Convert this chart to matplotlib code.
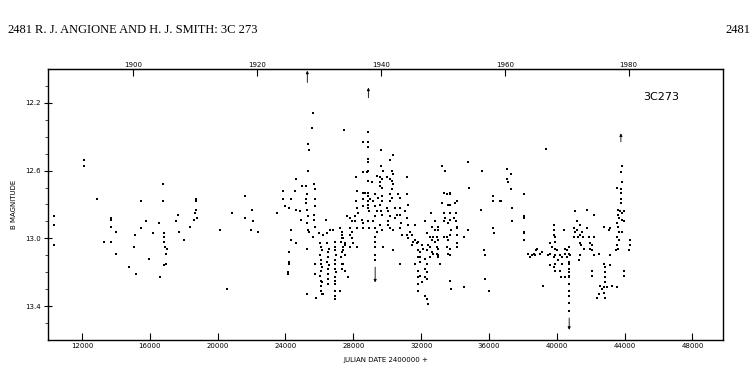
import matplotlib
matplotlib.use("Agg")
import matplotlib.pyplot as plt
import numpy as np

# B magnitude light curve of 3C 273 (JD - 2400000, mag)
early = [
    (10350, 12.87), (10350, 12.92), (10350, 13.04), (12120, 12.54), (12120, 12.57),
    (12870, 12.77), (13690, 12.88), (13690, 12.89), (13690, 12.93), (13990, 12.96),
    (13320, 13.02), (13690, 13.02), (13990, 13.09), (14750, 13.17), (15070, 13.05),
    (15110, 12.98), (15170, 13.21), (15480, 12.78), (15460, 12.94), (15800, 12.90),
    (15950, 13.12), (16190, 12.97), (16540, 12.91), (16580, 13.23), (16800, 12.68),
    (16800, 12.78), (16820, 12.97), (16820, 12.99), (16820, 13.02), (16900, 13.05),
    (17020, 13.06), (16940, 13.09), (16820, 13.16), (16970, 13.15), (17650, 12.86),
    (17550, 12.90), (17710, 12.96), (18020, 13.01), (18370, 12.93), (18710, 12.77),
    (18710, 12.78), (18710, 12.83), (18670, 12.85), (18610, 12.89), (18810, 12.88),
    (20120, 12.95), (20560, 13.30), (20870, 12.85), (21600, 12.75), (21600, 12.88),
    (22050, 12.83), (22070, 12.90), (21970, 12.95), (22400, 12.96),
]

s1925 = [
    (23490, 12.85), (23880, 12.72), (23880, 12.77), (23980, 12.81), (24210, 12.82),
    (24170, 13.20), (24170, 13.21), (24210, 13.14), (24210, 13.15), (24210, 13.08),
    (24310, 12.77), (24310, 12.95), (24310, 13.01), (24570, 12.72), (24610, 12.83),
    (24630, 12.65), (24630, 13.03), (24860, 12.84), (24920, 12.89), (24960, 12.69),
    (25200, 12.69), (25220, 12.77), (25220, 12.79), (25260, 12.74), (25260, 12.91),
    (25260, 13.06), (25260, 13.33), (25290, 12.83), (25320, 12.95), (25350, 12.44),
    (25350, 12.60), (25350, 12.87), (25370, 12.96), (25410, 12.48), (25550, 12.35),
    (25650, 12.26), (25650, 12.99), (25690, 12.68), (25690, 12.86), (25710, 12.89),
    (25750, 12.71), (25750, 12.77), (25750, 12.81), (25750, 12.93), (25750, 13.15),
    (25750, 13.21), (25810, 13.35), (26000, 12.97), (26200, 12.98), (26400, 12.89),
    (26440, 12.97), (26630, 12.95), (26830, 12.95), (26230, 13.33),
    (26040, 13.03), (26100, 13.05), (26160, 13.07), (26060, 13.10), (26120, 13.13),
    (26080, 13.15), (26140, 13.17), (26100, 13.19), (26060, 13.22), (26120, 13.25),
    (26160, 13.26), (26080, 13.28), (26100, 13.31), (26140, 13.33),
    (26480, 13.03), (26540, 13.06), (26500, 13.08), (26520, 13.11), (26480, 13.14),
    (26540, 13.16), (26510, 13.18), (26500, 13.21), (26530, 13.24), (26490, 13.27),
    (26900, 13.02), (26950, 13.05), (26920, 13.07), (26960, 13.10), (26900, 13.13),
    (26940, 13.15), (26920, 13.18), (26960, 13.20), (26900, 13.23), (26930, 13.25),
    (26950, 13.27), (26910, 13.31), (26940, 13.34), (26920, 13.36),
]

s1935 = [
    (27320, 12.96), (27360, 13.00), (27300, 13.02), (27380, 13.05), (27340, 13.08),
    (27300, 13.11), (27360, 13.15), (27340, 13.18), (27460, 12.36), (27220, 12.94),
    (27320, 12.98), (27420, 13.00), (27520, 13.03), (27520, 13.04), (27420, 13.07),
    (27520, 13.10), (27420, 13.15), (27520, 13.19), (27710, 13.23), (27220, 13.31),
    (27610, 12.87), (27810, 12.88), (27910, 12.90), (28110, 12.87), (28110, 12.90),
    (28210, 12.94), (27810, 12.94), (27910, 12.96), (27810, 12.98), (27910, 13.00),
    (28010, 13.03), (27810, 13.05), (28210, 13.05), (28170, 12.64), (28210, 12.72),
    (28170, 12.78), (28210, 12.82), (28300, 12.85), (28600, 12.43), (28600, 12.61),
    (28800, 12.61), (28600, 12.73), (28700, 12.73), (28600, 12.77), (28600, 12.81),
    (28500, 12.89), (28600, 12.91), (28600, 12.94), (28890, 12.37), (28890, 12.43),
    (28890, 12.46), (28890, 12.53), (28890, 12.55), (28890, 12.60), (28890, 12.66),
    (28890, 12.73), (28890, 12.75), (28890, 12.78), (28890, 12.80), (28890, 12.82),
    (28930, 12.84), (28890, 12.90), (28950, 12.94), (28990, 12.77), (29090, 12.67),
    (29190, 12.78), (29290, 12.81), (29390, 12.84), (29290, 12.87), (29190, 12.90),
    (29290, 12.94), (29390, 12.96), (29290, 12.99), (29290, 13.02), (29290, 13.05),
    (29290, 13.10), (29290, 13.13), (29290, 12.74), (29480, 12.76), (29390, 12.63),
    (29580, 12.64), (29680, 12.65), (29580, 12.67), (29580, 12.69), (29680, 12.70),
    (29640, 12.48), (29640, 12.57), (29780, 12.60), (29680, 12.75), (29680, 12.78),
    (29580, 12.80), (29620, 12.84), (29680, 12.86), (29580, 12.92), (29680, 12.95),
    (29780, 13.05), (29980, 12.64), (30170, 12.65), (30260, 12.66), (30370, 12.68),
    (30260, 12.71), (30170, 12.74), (30260, 12.76), (30170, 12.78), (29980, 12.82),
    (30070, 12.84), (30170, 12.87), (30070, 12.90), (30070, 12.92), (30170, 12.94),
    (30370, 12.95), (30170, 12.54), (30370, 12.51), (30310, 12.60), (30370, 12.62),
    (30370, 13.07), (30470, 12.82), (30560, 12.86), (30470, 12.88), (30660, 12.74),
    (30760, 12.76), (30760, 12.82), (30760, 12.86), (30820, 12.91), (30760, 12.94),
    (30860, 12.98), (30760, 13.15), (31160, 12.64), (31160, 12.74), (31250, 12.80),
    (31060, 12.84), (31160, 12.88), (31250, 12.92), (31350, 12.96), (31160, 12.98),
    (31250, 13.00), (31450, 12.98), (31550, 13.02), (31450, 13.04),
]

s1947 = [
    (31770, 13.03), (31840, 13.07), (31840, 13.11), (31650, 13.15), (31840, 13.19),
    (31840, 13.23), (31840, 13.27), (31840, 13.31), (31650, 12.92), (31650, 13.01),
    (31840, 13.02), (32040, 13.04), (32240, 12.90), (32240, 13.34), (32340, 13.36),
    (32400, 13.39), (32590, 12.85), (33220, 12.57), (33420, 12.60), (34790, 12.55),
    (35580, 12.60), (34830, 12.70), (33320, 12.73), (33520, 12.74), (33710, 12.73),
    (33710, 12.74), (36230, 12.75), (36230, 12.78), (36720, 12.78), (33260, 12.79),
    (33610, 12.80), (33710, 12.80), (34010, 12.79), (34110, 12.78), (35520, 12.83),
    (33320, 12.85), (33710, 12.85), (34050, 12.85), (33420, 12.88), (33710, 12.89),
    (33910, 12.88), (32830, 12.90), (33320, 12.90), (33610, 12.91), (34050, 12.90),
    (32630, 12.93), (33020, 12.93), (34110, 12.93), (32790, 12.95), (33020, 12.95),
    (33770, 12.95), (34110, 12.94), (34790, 12.95), (36210, 12.94), (36270, 12.97),
    (32340, 12.97), (32530, 12.99), (32730, 12.99), (32930, 12.99), (33320, 12.99),
    (33520, 12.99), (33710, 12.98), (34110, 12.98), (34500, 12.99), (32630, 13.01),
    (32830, 13.02), (33020, 13.01), (33610, 13.01), (32430, 13.04), (32530, 13.05),
    (32930, 13.05), (33020, 13.06), (33520, 13.05), (33710, 13.06), (34110, 13.03),
    (34110, 13.05), (31940, 13.08), (32140, 13.06), (32340, 13.07), (32630, 13.08),
    (32730, 13.09), (32930, 13.09), (33020, 13.10), (33610, 13.09), (33710, 13.10),
    (35680, 13.07), (35780, 13.10), (31940, 13.11), (32240, 13.12), (32530, 13.11),
    (33020, 13.11), (31940, 13.14), (32340, 13.15), (33120, 13.15), (32240, 13.18),
    (32340, 13.20), (31940, 13.22), (32240, 13.23), (32340, 13.24), (33710, 13.25),
    (35780, 13.24), (32040, 13.26), (33770, 13.30), (34500, 13.29), (36010, 13.31),
]

s1962 = [
    (39360, 12.47), (37060, 12.59), (37310, 12.62), (37060, 12.65), (37150, 12.67),
    (37310, 12.71), (36660, 12.78), (38040, 12.74), (37350, 12.82), (37350, 12.90),
    (38040, 12.87), (38040, 12.88), (38040, 12.96), (38080, 12.97), (38040, 13.01),
    (41090, 12.84), (40990, 12.94), (41090, 12.96), (41190, 12.95), (41030, 12.99),
    (41230, 12.99), (41340, 13.03), (39850, 12.92), (39850, 12.95), (39810, 12.98),
    (39910, 12.99), (39910, 13.02), (39610, 13.03), (39710, 13.05), (39910, 13.06),
    (40010, 13.07), (40400, 12.95), (38330, 13.09), (38430, 13.11), (38530, 13.10),
    (38630, 13.09), (38790, 13.07), (38830, 13.06), (38730, 13.10), (39020, 13.09),
    (39120, 13.08), (39180, 13.28), (39510, 13.10), (39610, 13.09), (39810, 13.11),
    (39910, 13.10), (39870, 13.15), (39610, 13.16), (39850, 13.17), (39910, 13.19),
    (40200, 13.19), (40300, 13.15), (40100, 13.13), (40300, 13.11), (40200, 13.10),
    (40500, 13.09), (40500, 13.06), (40600, 13.07), (40700, 13.05), (40700, 13.09),
    (40600, 13.11), (40790, 13.10), (40700, 13.14), (40260, 13.23), (40500, 13.23),
    (40730, 13.15), (40730, 13.18), (40730, 13.20), (40730, 13.22), (40730, 13.23),
    (40730, 13.27), (40730, 13.31), (40730, 13.34), (40730, 13.38), (40730, 13.43),
]

s1972 = [
    (43840, 12.57), (43780, 12.61), (43840, 12.67), (43780, 12.71), (43800, 12.73),
    (43780, 12.77), (43800, 12.79), (43550, 12.70), (43610, 12.83), (43740, 12.84),
    (43610, 12.86), (43840, 12.85), (43940, 12.84), (43640, 12.88), (43840, 12.89),
    (43980, 12.90), (43550, 12.91), (43590, 12.93), (43680, 12.96), (43840, 12.96),
    (43550, 12.99), (43640, 13.01), (43550, 13.04), (43610, 13.06), (43510, 13.07),
    (44290, 13.01), (44330, 13.04), (44270, 13.07), (41810, 12.83), (42170, 12.86),
    (41190, 12.90), (41380, 12.92), (41480, 12.96), (41380, 12.98), (41520, 12.99),
    (41440, 13.04), (41580, 13.06), (41380, 13.10), (41280, 13.13), (41780, 12.94),
    (41870, 12.99), (41970, 13.03), (41970, 13.06), (42070, 13.04), (42170, 12.99),
    (42070, 13.07), (42170, 13.10), (42460, 13.09), (42760, 12.93), (43050, 12.95),
    (43150, 12.94), (43150, 13.10), (42070, 13.19), (42070, 13.22), (42760, 13.15),
    (42860, 13.17), (42820, 13.20), (42860, 13.23), (42820, 13.26), (42760, 13.29),
    (43150, 13.16), (42560, 13.28), (42660, 13.30), (42460, 13.33), (42760, 13.32),
    (42960, 13.29), (42370, 13.35), (42860, 13.35), (43250, 13.28), (43550, 13.29),
    (43940, 13.19), (43980, 13.22),
]

# limits drawn as arrows
arrow_jd = [25290, 28890, 43780, 29290, 40730]
arrow_from = [12.08, 12.17, 12.43, 13.17, 13.47]
arrow_to = [12.01, 12.11, 12.38, 13.26, 13.54]

jd_ticks = [12000, 16000, 20000, 24000, 28000, 32000, 36000, 40000, 44000, 48000]
mag_ticks = [12.2, 12.6, 13.0, 13.4]
year_ticks = [1900, 1920, 1940, 1960, 1980]

fig = plt.figure(figsize=(7.53, 3.76), dpi=100)
ax = fig.add_axes([48 / 753, 1 - 340 / 376, 675 / 753, 271 / 376])

for season in [early, s1925, s1935, s1947, s1962, s1972]:
    jd, mag = zip(*season)
    ax.scatter(jd, mag, s=2, marker="s", color="black", linewidths=0)

for x, a, b in zip(arrow_jd, arrow_from, arrow_to):
    ax.annotate("", xy=(x, b), xytext=(x, a),
                arrowprops=dict(arrowstyle="-|>", lw=0.6, color="black",
                                mutation_scale=4, shrinkA=0, shrinkB=0))

ax.set_xlim(10000, 49800)
ax.set_ylim(13.6, 12.0)
ax.set_xticks(jd_ticks)
ax.set_xticklabels([str(t) for t in jd_ticks], fontsize=5)
ax.set_yticks(mag_ticks)
ax.set_yticklabels(["%.1f" % t for t in mag_ticks], fontsize=5)
ax.set_yticks(np.arange(12.1, 13.6, 0.1), minor=True)
ax.tick_params(axis="x", direction="in", length=5, width=0.8, pad=2)
ax.tick_params(axis="y", direction="inout", length=6, width=0.8, pad=2)
ax.tick_params(axis="y", which="minor", direction="out", length=2, width=0.5)
for sp in ax.spines.values():
    sp.set_linewidth(1.0)

top = ax.secondary_xaxis("top", functions=(lambda j: 1900 + (j - 15020) / 365.25,
                                           lambda y: 15020 + (y - 1900) * 365.25))
top.set_xticks(year_ticks)
top.set_xticklabels([str(y) for y in year_ticks], fontsize=5)
top.tick_params(direction="in", length=5, width=0.8, pad=1)

ax.set_ylabel("B MAGNITUDE", fontsize=5, labelpad=6)
ax.set_xlabel("JULIAN DATE 2400000 +", fontsize=5, labelpad=6)
ax.text(0.908, 0.897, "3C273", transform=ax.transAxes, fontsize=8,
        ha="center", va="center")

fig.text(7 / 753, 1 - 30 / 376, "2481", fontsize=9, family="Liberation Serif",
         va="center")
fig.text(35 / 753, 1 - 30 / 376, "R. J. ANGIONE AND H. J. SMITH: 3C 273",
         fontsize=9, family="Liberation Serif", va="center")
fig.text(750 / 753, 1 - 30 / 376, "2481", fontsize=9, family="Liberation Serif",
         va="center", ha="right")

fig.savefig("out.png", dpi=100)
